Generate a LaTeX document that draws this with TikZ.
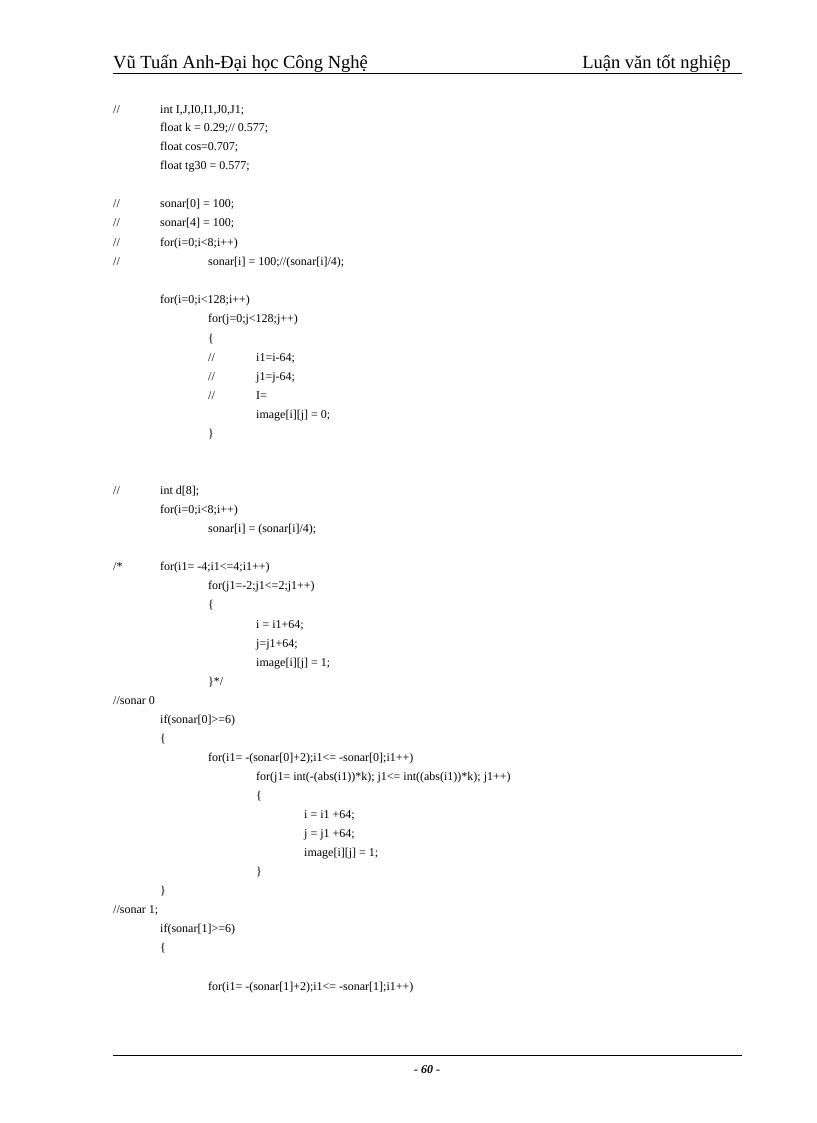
\documentclass[tikz,border=0pt]{standalone}
\usepackage{fontspec}
\setmainfont{Liberation Serif}
\begin{document}
\begin{tikzpicture}[x=1pt,y=-1pt,
  code/.style={anchor=base west,inner sep=0pt,font=\fontsize{12}{13}\selectfont},
  head/.style={inner sep=0pt,font=\fontsize{18.5}{21}\selectfont}]
\useasboundingbox[fill=white] (0,0) rectangle (816,1123);
\node[head,anchor=base west] (h1) at (113,69) {Vũ Tuấn Anh-Đại học Công Nghệ};
\node[head,anchor=base east] (h2) at (731,69) {Luận văn tốt nghiệp};
\draw[line width=0.8pt] (113,73) coordinate (hl1) -- (742,73) coordinate (hl2);
\draw[line width=0.6pt] (113,1055) coordinate (fl1) -- (742,1055) coordinate (fl2);
\node[inner sep=0pt,anchor=base,font=\fontsize{12}{13}\selectfont\bfseries\itshape] (ft) at (427,1073) {- 60 -};
\def\a{113}\def\b{160}\def\c{208}\def\d{256}\def\e{304}
\node[code] (c1) at (\a,114) {//};
\node[code] (c2) at (\b,114) {int I,J,I0,I1,J0,J1;};
\node[code] (c3) at (\b,132) {float k = 0.29;// 0.577;};
\node[code] (c4) at (\b,151) {float cos=0.707;};
\node[code] (c5) at (\b,170) {float tg30 = 0.577;};
\node[code] (c6) at (\a,208) {//};
\node[code] (c7) at (\b,208) {sonar[0] = 100;};
\node[code] (c8) at (\a,227) {//};
\node[code] (c9) at (\b,227) {sonar[4] = 100;};
\node[code] (c10) at (\a,246) {//};
\node[code] (c11) at (\b,246) {for(i=0;i<8;i++)};
\node[code] (c12) at (\a,265) {//};
\node[code] (c13) at (\c,265) {sonar[i] = 100;//(sonar[i]/4);};
\node[code] (c14) at (\b,303) {for(i=0;i<128;i++)};
\node[code] (c15) at (\c,322) {for(j=0;j<128;j++)};
\node[code] (c16) at (\c,342) {\{};
\node[code] (c17) at (\c,361) {//};
\node[code] (c18) at (\d,361) {i1=i-64;};
\node[code] (c19) at (\c,380) {//};
\node[code] (c20) at (\d,380) {j1=j-64;};
\node[code] (c21) at (\c,399) {//};
\node[code] (c22) at (\d,399) {I=};
\node[code] (c23) at (\d,418) {image[i][j] = 0;};
\node[code] (c24) at (\c,437) {\}};
\node[code] (c25) at (\a,494) {//};
\node[code] (c26) at (\b,494) {int d[8];};
\node[code] (c27) at (\b,513) {for(i=0;i<8;i++)};
\node[code] (c28) at (\c,532) {sonar[i] = (sonar[i]/4);};
\node[code] (c29) at (\a,570) {/*};
\node[code] (c30) at (\b,570) {for(i1= -4;i1<=4;i1++)};
\node[code] (c31) at (\c,589) {for(j1=-2;j1<=2;j1++)};
\node[code] (c32) at (\c,608) {\{};
\node[code] (c33) at (\d,628) {i = i1+64;};
\node[code] (c34) at (\d,647) {j=j1+64;};
\node[code] (c35) at (\d,666) {image[i][j] = 1;};
\node[code] (c36) at (\c,685) {\}*/};
\node[code] (c37) at (\a,704) {//sonar 0};
\node[code] (c38) at (\b,723) {if(sonar[0]>=6)};
\node[code] (c39) at (\b,742) {\{};
\node[code] (c40) at (\c,761) {for(i1= -(sonar[0]+2);i1<= -sonar[0];i1++)};
\node[code] (c41) at (\d,780) {for(j1= int(-(abs(i1))*k); j1<= int((abs(i1))*k); j1++)};
\node[code] (c42) at (\d,799) {\{};
\node[code] (c43) at (\e,818) {i = i1 +64;};
\node[code] (c44) at (\e,837) {j = j1 +64;};
\node[code] (c45) at (\e,856) {image[i][j] = 1;};
\node[code] (c46) at (\d,875) {\}};
\node[code] (c47) at (\b,894) {\}};
\node[code] (c48) at (\a,913) {//sonar 1;};
\node[code] (c49) at (\b,932) {if(sonar[1]>=6)};
\node[code] (c50) at (\b,951) {\{};
\node[code] (c51) at (\c,990) {for(i1= -(sonar[1]+2);i1<= -sonar[1];i1++)};
\end{tikzpicture}
\end{document}
